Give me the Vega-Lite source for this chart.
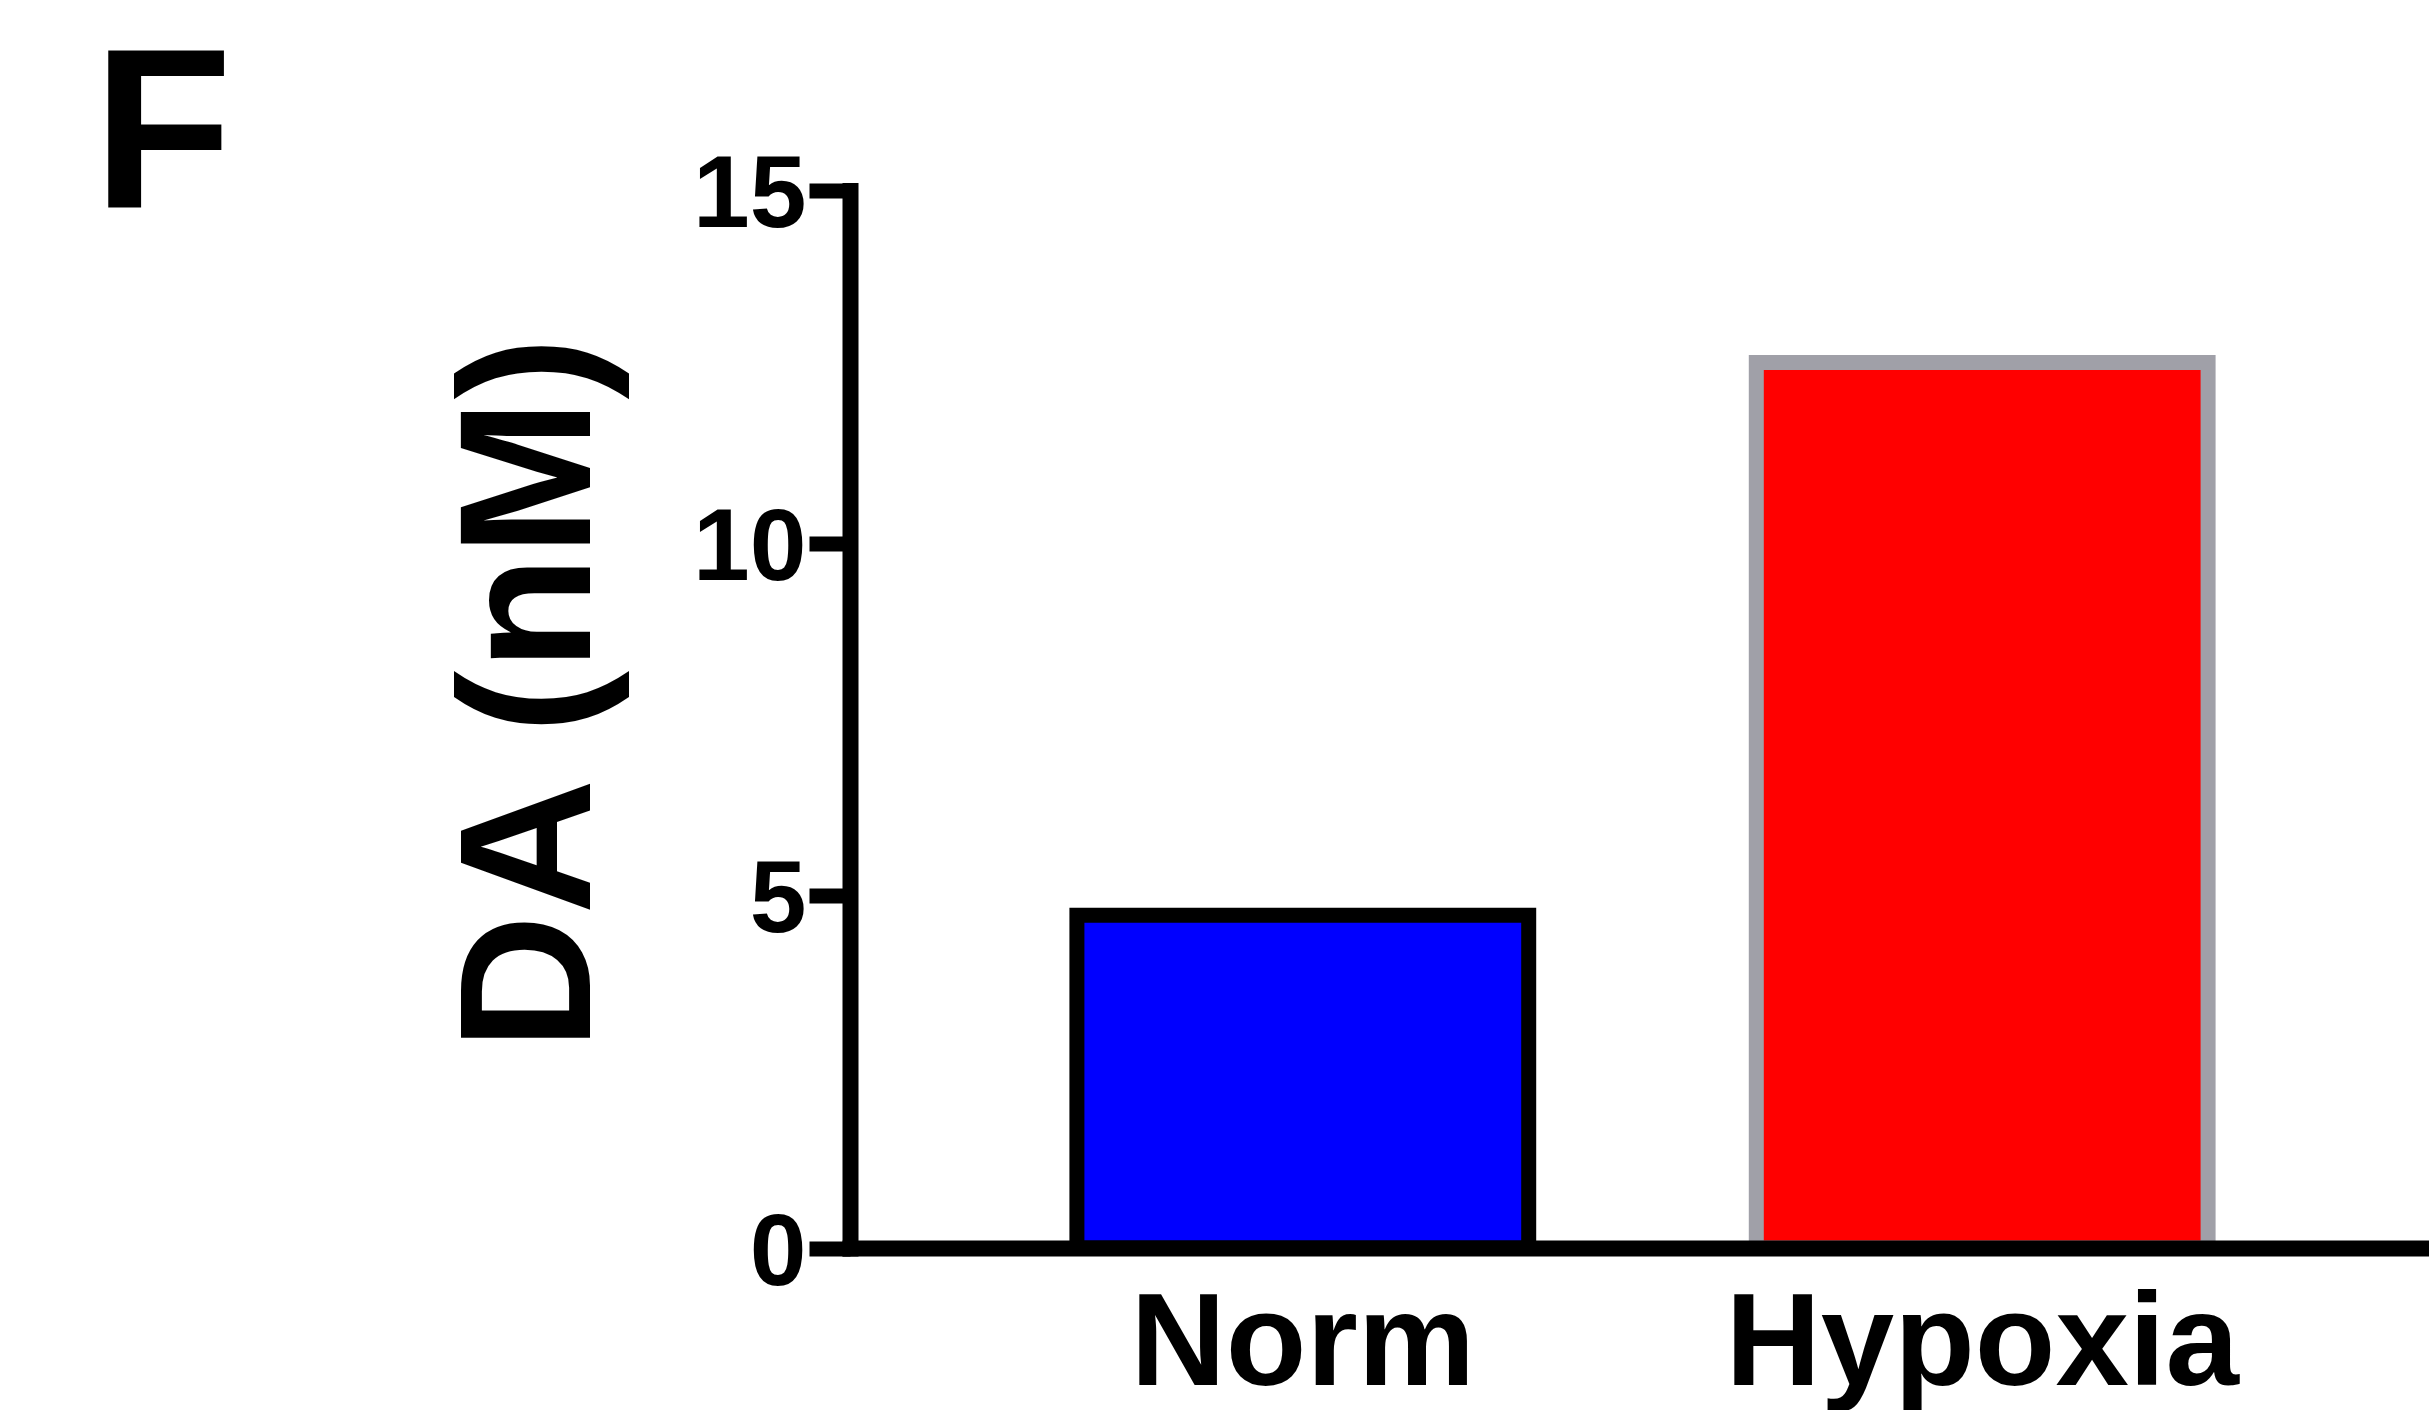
{
  "$schema": "https://vega.github.io/schema/vega-lite/v6.json",
  "width": 1585,
  "height": 1057.5,
  "autosize": {"type": "none"},
  "padding": {"left": 850, "top": 190.5, "right": 0, "bottom": 162},
  "background": "white",
  "config": {"view": {"stroke": null}, "font": "Liberation Sans"},
  "title": {
    "text": "F",
    "anchor": "start",
    "frame": "group",
    "fontSize": 228,
    "fontWeight": "bold",
    "font": "Liberation Sans",
    "color": "black",
    "baseline": "alphabetic",
    "offset": -291,
    "dx": -757
  },
  "data": {
    "values": [
      {"group": "Norm", "DA": 4.72},
      {"group": "Hypoxia", "DA": 12.56}
    ]
  },
  "mark": {"type": "bar", "strokeWidth": 15},
  "encoding": {
    "x": {
      "field": "group",
      "type": "nominal",
      "sort": ["Norm", "Hypoxia"],
      "scale": {"paddingInner": 0.335, "paddingOuter": 0.334},
      "axis": {
        "title": null,
        "domainColor": "black",
        "domainWidth": 16,
        "domainCap": "square",
        "ticks": false,
        "labelFontSize": 132,
        "labelFont": "Liberation Sans",
        "labelFontWeight": "bold",
        "labelColor": "black",
        "labelPadding": 32,
        "labelAngle": 0,
        "labelLimit": 0,
        "zindex": 1
      }
    },
    "y": {
      "field": "DA",
      "type": "quantitative",
      "scale": {"domain": [0, 15], "nice": false},
      "axis": {
        "title": "DA (nM)",
        "values": [0, 5, 10, 15],
        "grid": false,
        "domainColor": "black",
        "domainWidth": 16,
        "domainCap": "square",
        "tickColor": "black",
        "tickWidth": 15,
        "tickSize": 41,
        "labelFontSize": 102,
        "labelFont": "Liberation Sans",
        "labelFontWeight": "bold",
        "labelColor": "black",
        "labelPadding": 3,
        "labelBaseline": "alphabetic",
        "labelOffset": 36,
        "labelFlush": false,
        "titleFont": "Liberation Sans",
        "titleFontSize": 188,
        "titleFontWeight": "bold",
        "titleColor": "black",
        "titleAngle": -90,
        "titleX": -261,
        "titleY": 502.5,
        "titleAlign": "center",
        "titleBaseline": "alphabetic",
        "zindex": 1
      }
    },
    "fill": {
      "field": "group",
      "type": "nominal",
      "scale": {"domain": ["Norm", "Hypoxia"], "range": ["#0000ff", "#ff0000"]},
      "legend": null
    },
    "stroke": {
      "field": "group",
      "type": "nominal",
      "scale": {"domain": ["Norm", "Hypoxia"], "range": ["#000000", "#a0a0a8"]},
      "legend": null
    }
  }
}
